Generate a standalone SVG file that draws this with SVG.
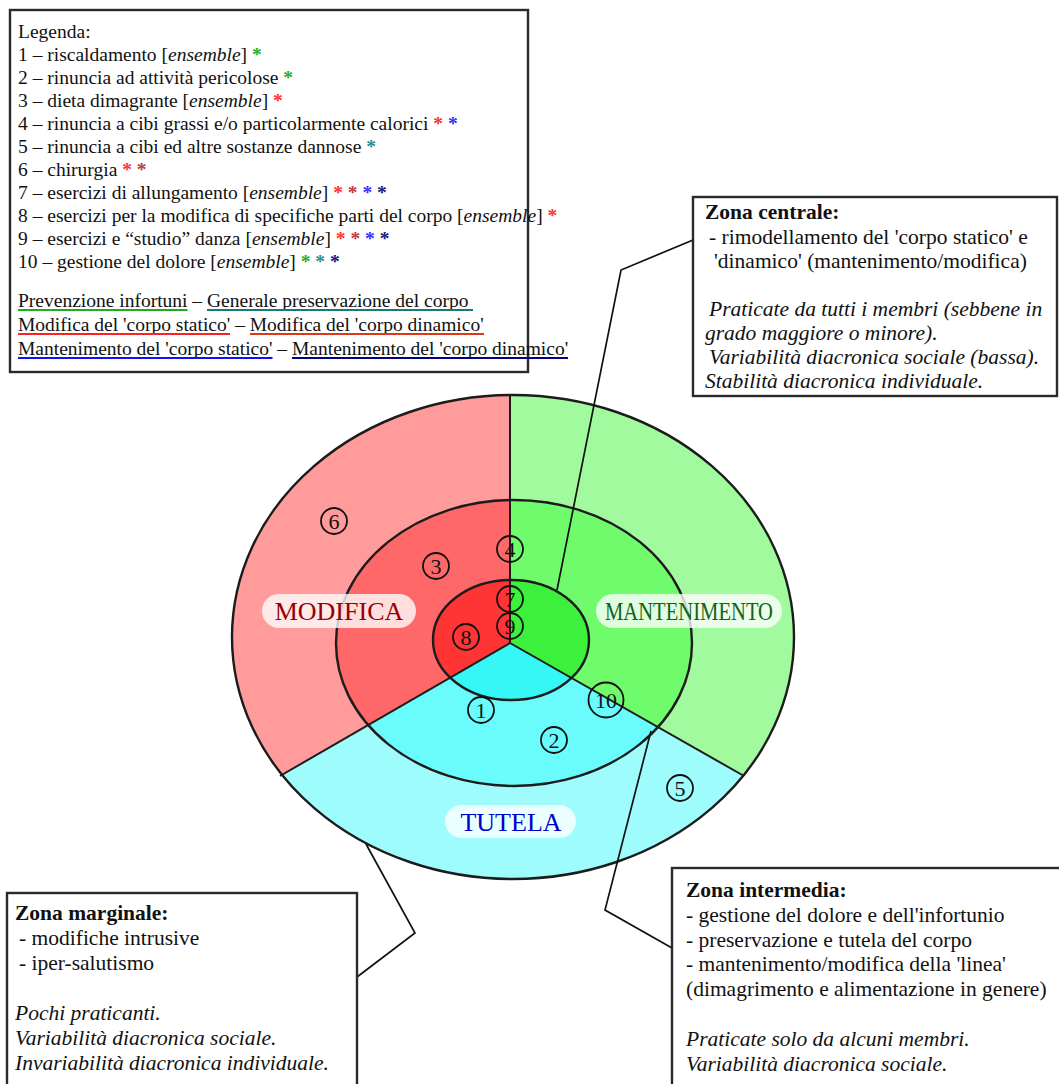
<svg xmlns="http://www.w3.org/2000/svg" width="1059" height="1084" viewBox="0 0 1059 1084">
<style>
text { font-family: "Liberation Serif", "Times New Roman", serif; fill: #111; }
.lg { font-size: 19.5px; }
.bx { font-size: 21.5px; }
.b { font-weight: bold; }
.i { font-style: italic; }
.num { font-size: 22px; text-anchor: middle; }
.frame { fill: #fff; stroke: #2a2a2a; stroke-width: 2.4; }
.ring { fill: none; stroke: #1c1c1c; stroke-width: 2.4; }
.sep { stroke: #1c1c1c; stroke-width: 2; }
.cn { fill: none; stroke: #111; stroke-width: 1.7; }
.nc { fill: none; stroke: #111; stroke-width: 1.8; }
.pill { fill: #ffffff; fill-opacity: 0.78; }
.lbl { font-size: 26px; text-anchor: middle; }
.ag { fill: #22b022; font-weight: bold; }
.at { fill: #209090; font-weight: bold; }
.ar { fill: #ff3030; font-weight: bold; }
.ad { fill: #c03838; font-weight: bold; }
.ab { fill: #3030ff; font-weight: bold; }
.an { fill: #16167a; font-weight: bold; }
</style>
<defs>
<clipPath id="wL"><polygon points="510,643 510,300 150,300 150,851"/></clipPath>
<clipPath id="wR"><polygon points="510,643 510,300 900,300 900,865"/></clipPath>
<clipPath id="wB"><polygon points="510,643 150,851 150,960 900,960 900,865"/></clipPath>
</defs>

<!-- Legend -->
<g id="legend">
<rect class="frame" x="10" y="10" width="518" height="362"/>
<text class="lg" x="18" y="38">Legenda:</text>
<text class="lg" x="18" y="61">1 – riscaldamento [<tspan class="i">ensemble</tspan>] <tspan class="ag">*</tspan></text>
<text class="lg" x="18" y="84">2 – rinuncia ad attività pericolose <tspan class="ag">*</tspan></text>
<text class="lg" x="18" y="107">3 – dieta dimagrante [<tspan class="i">ensemble</tspan>] <tspan class="ar">*</tspan></text>
<text class="lg" x="18" y="130">4 – rinuncia a cibi grassi e/o particolarmente calorici <tspan class="ar">*</tspan> <tspan class="ab">*</tspan></text>
<text class="lg" x="18" y="153">5 – rinuncia a cibi ed altre sostanze dannose <tspan class="at">*</tspan></text>
<text class="lg" x="18" y="175.5">6 – chirurgia <tspan class="ar">*</tspan> <tspan class="ad">*</tspan></text>
<text class="lg" x="18" y="198.5">7 – esercizi di allungamento [<tspan class="i">ensemble</tspan>] <tspan class="ar">*</tspan> <tspan class="ad">*</tspan> <tspan class="ab">*</tspan> <tspan class="an">*</tspan></text>
<text class="lg" x="18" y="221.5">8 – esercizi per la modifica di specifiche parti del corpo [<tspan class="i">ensemble</tspan>] <tspan class="ar">*</tspan></text>
<text class="lg" x="18" y="244.5">9 – esercizi e “studio” danza [<tspan class="i">ensemble</tspan>] <tspan class="ar">*</tspan> <tspan class="ad">*</tspan> <tspan class="ab">*</tspan> <tspan class="an">*</tspan></text>
<text class="lg" x="18" y="267.5">10 – gestione del dolore [<tspan class="i">ensemble</tspan>] <tspan class="ag">*</tspan> <tspan class="at">*</tspan> <tspan class="an">*</tspan></text>
<text class="lg" x="18" y="307">Prevenzione infortuni – Generale preservazione del corpo</text>
<text class="lg" x="18" y="331">Modifica del 'corpo statico' – Modifica del 'corpo dinamico'</text>
<text class="lg" x="18" y="355">Mantenimento del 'corpo statico' – Mantenimento del 'corpo dinamico'</text>
<g stroke-width="2">
<line x1="18" y1="310" x2="187.5" y2="310" stroke="#22aa22"/>
<line x1="207" y1="310" x2="473" y2="310" stroke="#1a7878"/>
<line x1="18" y1="334" x2="230" y2="334" stroke="#ff2020"/>
<line x1="250" y1="334" x2="484" y2="334" stroke="#dd3818"/>
<line x1="18" y1="358" x2="272.5" y2="358" stroke="#1010ff"/>
<line x1="292" y1="358" x2="568" y2="358" stroke="#000080"/>
</g>
</g>

<!-- Sectors -->
<g id="sector-modifica" clip-path="url(#wL)">
<ellipse cx="513" cy="637" rx="281" ry="242" fill="#ff9b9b"/>
<ellipse cx="514" cy="643" rx="178" ry="143" fill="#ff6868"/>
<ellipse cx="511" cy="640" rx="78" ry="60" fill="#ff3535"/>
</g>
<g id="sector-mantenimento" clip-path="url(#wR)">
<ellipse cx="513" cy="637" rx="281" ry="242" fill="#a2fa9e"/>
<ellipse cx="514" cy="643" rx="178" ry="143" fill="#70fb6c"/>
<ellipse cx="511" cy="640" rx="78" ry="60" fill="#3cf03c"/>
</g>
<g id="sector-tutela" clip-path="url(#wB)">
<ellipse cx="513" cy="637" rx="281" ry="242" fill="#9efcfc"/>
<ellipse cx="514" cy="643" rx="178" ry="143" fill="#6afcfc"/>
<ellipse cx="511" cy="640" rx="78" ry="60" fill="#36f6f6"/>
</g>
<g id="rings">
<line class="sep" x1="510" y1="395" x2="510" y2="643"/>
<line class="sep" x1="510" y1="643" x2="280" y2="776"/>
<line class="sep" x1="510" y1="643" x2="744" y2="776"/>
<ellipse class="ring" cx="513" cy="637" rx="281" ry="242"/>
<ellipse class="ring" cx="514" cy="643" rx="178" ry="143"/>
<ellipse class="ring" cx="511" cy="640" rx="78" ry="60"/>
</g>

<!-- Connectors -->
<g id="connectors">
<polyline class="cn" points="557,590 621,270 693,240"/>
<polyline class="cn" points="651,731 605,910 672,948"/>
<polyline class="cn" points="366,844 415,933 357,977"/>
</g>

<!-- Numbered items -->
<g id="item-6"><circle class="nc" cx="334" cy="521" r="13"/><text class="num" x="334" y="528.5">6</text></g>
<g id="item-3"><circle class="nc" cx="436" cy="566" r="13"/><text class="num" x="436" y="573.5">3</text></g>
<g id="item-4"><circle class="nc" cx="510" cy="549" r="13"/><text class="num" x="510" y="556.5">4</text></g>
<g id="item-7"><circle class="nc" cx="510" cy="599" r="13"/><text class="num" x="510" y="606.5">7</text></g>
<g id="item-9"><circle class="nc" cx="510" cy="626" r="13"/><text class="num" x="510" y="633.5">9</text></g>
<g id="item-8"><circle class="nc" cx="466" cy="637" r="13"/><text class="num" x="466" y="644.5">8</text></g>
<g id="item-1"><circle class="nc" cx="481" cy="710" r="13"/><text class="num" x="481" y="717.5">1</text></g>
<g id="item-2"><circle class="nc" cx="554" cy="740" r="13"/><text class="num" x="554" y="747.5">2</text></g>
<g id="item-10"><circle class="nc" cx="606" cy="700" r="17.5"/><text class="num" x="606" y="707.5">10</text></g>
<g id="item-5"><circle class="nc" cx="680" cy="788" r="13"/><text class="num" x="680" y="795.5">5</text></g>

<!-- Sector labels -->
<g id="label-modifica"><rect class="pill" x="262" y="594" width="154" height="34" rx="17"/><text class="lbl" x="339" y="620" style="fill:#960000">MODIFICA</text></g>
<g id="label-mantenimento"><rect class="pill" x="596" y="594" width="186" height="34" rx="17"/><text class="lbl" x="689" y="620" textLength="168" lengthAdjust="spacingAndGlyphs" style="fill:#11621a">MANTENIMENTO</text></g>
<g id="label-tutela"><rect class="pill" x="445" y="805" width="131" height="33" rx="16.5"/><text class="lbl" x="511" y="831" style="fill:#0000c8">TUTELA</text></g>

<!-- Zone boxes -->
<g id="zona-centrale">
<rect class="frame" x="693" y="197" width="364" height="199"/>
<text class="bx b" x="705" y="219">Zona centrale:</text>
<text class="bx" x="709" y="243.5">- rimodellamento del 'corpo statico' e</text>
<text class="bx" x="714" y="268">'dinamico' (mantenimento/modifica)</text>
<text class="bx i" x="709" y="316">Praticate da tutti i membri (sebbene in</text>
<text class="bx i" x="705" y="340">grado maggiore o minore).</text>
<text class="bx i" x="709" y="364">Variabilità diacronica sociale (bassa).</text>
<text class="bx i" x="705" y="388">Stabilità diacronica individuale.</text>
</g>
<g id="zona-marginale">
<rect class="frame" x="7" y="893" width="350" height="210"/>
<text class="bx b" x="15" y="920">Zona marginale:</text>
<text class="bx" x="19" y="945">- modifiche intrusive</text>
<text class="bx" x="19" y="970">- iper-salutismo</text>
<text class="bx i" x="15" y="1020">Pochi praticanti.</text>
<text class="bx i" x="15" y="1045">Variabilità diacronica sociale.</text>
<text class="bx i" x="15" y="1070">Invariabilità diacronica individuale.</text>
</g>
<g id="zona-intermedia">
<rect class="frame" x="672" y="868" width="400" height="230"/>
<text class="bx b" x="686" y="897">Zona intermedia:</text>
<text class="bx" x="686" y="921.8">- gestione del dolore e dell'infortunio</text>
<text class="bx" x="686" y="946.6">- preservazione e tutela del corpo</text>
<text class="bx" x="686" y="971.4">- mantenimento/modifica della 'linea'</text>
<text class="bx" x="686" y="996.2">(dimagrimento e alimentazione in genere)</text>
<text class="bx i" x="686" y="1045.8">Praticate solo da alcuni membri.</text>
<text class="bx i" x="686" y="1070.6">Variabilità diacronica sociale.</text>
</g>
</svg>
